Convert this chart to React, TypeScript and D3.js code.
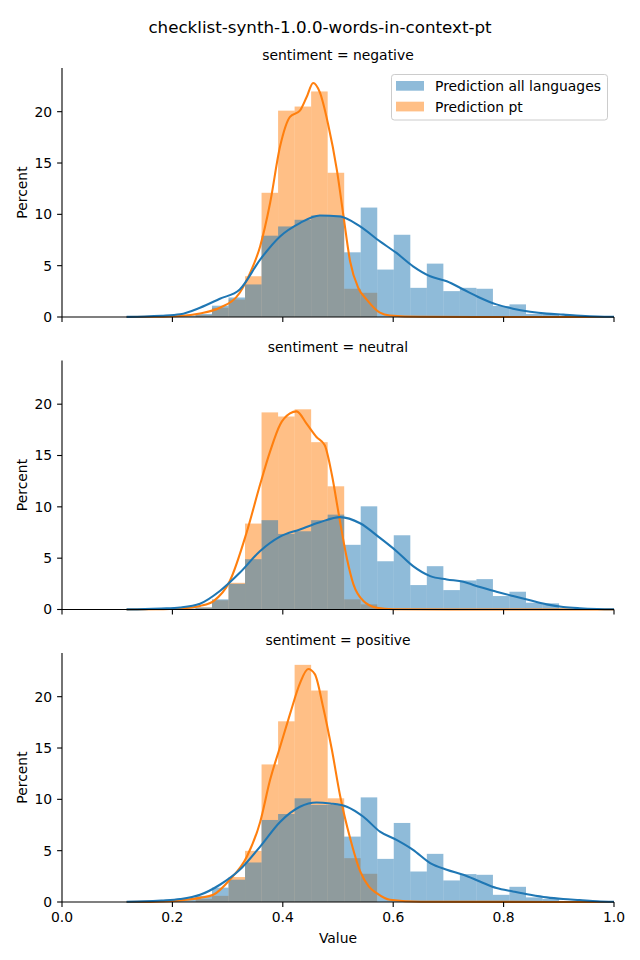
import React from "react";
import * as d3 from "d3";

const title = "checklist-synth-1.0.0-words-in-context-pt";
const facets = ["negative", "neutral", "positive"];
const seriesNames = ["Prediction all languages", "Prediction pt"];
const xTicks = [0, 0.2, 0.4, 0.6, 0.8, 1.0];
const yTicks = [0, 5, 10, 15, 20];

const binStart = 0.122;
const binWidth = 0.02994;
const binCount = 29;

// histogram percents per bin
const negAll = [0.05, 0.05, 0.1, 0.15, 0.3, 1.1, 1.9, 3.17, 7.92, 8.82, 9.47, 9.89, 9.89, 6.3, 10.66, 4.62, 8.01, 2.84, 5.2, 2.52, 2.84, 2.75, 1.07, 1.23, 0.3, 0.3, 0.1, 0.05, 0.05];
const negPt = [0, 0, 0, 0, 0.2, 0.9, 1.7, 3.97, 12.1, 20.1, 20.5, 21.97, 14.05, 2.75, 2.36, 0, 0, 0, 0, 0, 0, 0, 0, 0, 0, 0, 0, 0, 0];
const neuAll = [0.03, 0.03, 0.05, 0.1, 0.2, 0.99, 2.5, 4.9, 8.7, 7.36, 7.62, 8.7, 9.24, 6.3, 10.05, 4.7, 7.23, 2.38, 4.22, 1.89, 2.83, 2.96, 1.31, 1.73, 0.66, 0.6, 0.1, 0.05, 0.03];
const neuPt = [0, 0, 0, 0, 0.2, 0.9, 2.6, 8.37, 19.2, 18.8, 19.5, 16.3, 12.0, 0.99, 0.5, 0.05, 0, 0, 0, 0, 0, 0, 0, 0, 0, 0, 0, 0, 0];
const posAll = [0.1, 0.05, 0.1, 0.2, 0.6, 1.4, 2.17, 3.85, 7.99, 8.57, 10.1, 9.45, 9.45, 6.37, 10.19, 4.2, 7.7, 2.97, 4.69, 2.1, 2.72, 2.65, 0.7, 1.48, 0.45, 0.3, 0.1, 0.05, 0.03];
const posPt = [0, 0, 0, 0, 0.3, 0.6, 2.43, 4.98, 13.4, 17.6, 23.1, 20.6, 10.1, 4.27, 2.75, 0, 0, 0, 0, 0, 0, 0, 0, 0, 0, 0, 0, 0, 0];

// KDE curves
const kdeNegAllX = [0.117, 0.15, 0.18, 0.214, 0.25, 0.286, 0.322, 0.359, 0.395, 0.431, 0.467, 0.504, 0.54, 0.576, 0.606, 0.636, 0.667, 0.697, 0.727, 0.757, 0.787, 0.817, 0.848, 0.878, 0.908, 0.94, 0.97, 1.0];
const kdeNegAllY = [0.01, 0.05, 0.12, 0.26, 0.9, 1.78, 2.68, 5.6, 7.85, 9.15, 9.89, 9.79, 8.82, 7.36, 6.24, 4.94, 3.97, 3.49, 2.68, 1.88, 1.23, 0.81, 0.52, 0.33, 0.23, 0.12, 0.05, 0.02];
const kdeNegPtX = [0.117, 0.17, 0.214, 0.25, 0.286, 0.322, 0.34, 0.359, 0.377, 0.395, 0.413, 0.431, 0.443, 0.455, 0.467, 0.482, 0.498, 0.51, 0.522, 0.537, 0.552, 0.576, 0.594, 0.65, 0.75, 1.0];
const kdeNegPtY = [0.0, 0.02, 0.1, 0.35, 0.9, 2.36, 4.2, 6.9, 11.1, 16.6, 19.5, 20.1, 21.4, 22.8, 21.9, 18.8, 14.3, 9.8, 5.4, 2.8, 1.7, 0.42, 0.15, 0.02, 0, 0];
const kdeNeuAllX = [0.117, 0.15, 0.18, 0.214, 0.25, 0.286, 0.322, 0.359, 0.395, 0.431, 0.467, 0.504, 0.54, 0.576, 0.606, 0.636, 0.667, 0.697, 0.727, 0.757, 0.787, 0.817, 0.848, 0.878, 0.908, 0.938, 0.97, 1.0];
const kdeNeuAllY = [0.01, 0.04, 0.1, 0.2, 0.56, 1.8, 3.57, 5.7, 7.1, 7.8, 8.5, 9.0, 8.4, 6.97, 5.68, 4.22, 3.25, 2.93, 2.7, 2.18, 1.73, 1.31, 0.89, 0.5, 0.24, 0.12, 0.05, 0.02];
const kdeNeuPtX = [0.117, 0.17, 0.214, 0.25, 0.274, 0.304, 0.335, 0.359, 0.377, 0.395, 0.413, 0.425, 0.443, 0.461, 0.476, 0.489, 0.501, 0.516, 0.528, 0.546, 0.57, 0.6, 0.7, 1.0];
const kdeNeuPtY = [0.0, 0.02, 0.1, 0.35, 0.8, 2.77, 7.6, 12.2, 15.4, 18.0, 19.1, 19.3, 18.1, 16.8, 16.0, 13.1, 9.4, 5.0, 2.45, 0.83, 0.18, 0.03, 0, 0];
const kdePosAllX = [0.117, 0.15, 0.18, 0.214, 0.25, 0.286, 0.322, 0.359, 0.395, 0.431, 0.461, 0.486, 0.516, 0.546, 0.576, 0.606, 0.636, 0.667, 0.697, 0.727, 0.757, 0.787, 0.817, 0.848, 0.878, 0.908, 0.938, 0.97, 1.0];
const kdePosAllY = [0.03, 0.07, 0.15, 0.29, 0.7, 1.68, 3.14, 5.4, 7.8, 9.28, 9.7, 9.6, 9.28, 8.3, 6.86, 6.05, 5.08, 3.79, 3.14, 2.65, 2.0, 1.36, 1.03, 0.71, 0.45, 0.29, 0.19, 0.08, 0.03];
const kdePosPtX = [0.117, 0.17, 0.214, 0.25, 0.274, 0.304, 0.335, 0.359, 0.377, 0.395, 0.413, 0.431, 0.446, 0.458, 0.473, 0.489, 0.504, 0.522, 0.54, 0.556, 0.57, 0.594, 0.65, 1.0];
const kdePosPtY = [0.0, 0.04, 0.16, 0.4, 0.7, 2.17, 4.43, 7.8, 11.9, 15.1, 18.3, 21.3, 22.7, 22.2, 19.0, 14.8, 10.3, 6.2, 3.0, 1.5, 0.87, 0.22, 0.02, 0];

const histAll = [negAll, neuAll, posAll];
const histPt = [negPt, neuPt, posPt];
const kdeAll = [[kdeNegAllX, kdeNegAllY], [kdeNeuAllX, kdeNeuAllY], [kdePosAllX, kdePosAllY]];
const kdePt = [[kdeNegPtX, kdeNegPtY], [kdeNeuPtX, kdeNeuPtY], [kdePosPtX, kdePosPtY]];

const BLUE = "#1f77b4";
const ORANGE = "#ff7f0e";
const FONT = "DejaVu Sans, Liberation Sans, sans-serif";

const W = 640;
const H = 960;
const left = 62;
const right = 614;
const panelTops = [68, 360.5, 653];
const panelH = 249;

export default function App() {
  const x = d3.scaleLinear().domain([0, 1]).range([left, right]);
  const ymax = (d3.max([...histAll.flat(), ...histPt.flat()]) as number) * 1.05;
  const edges = d3.range(binCount + 1).map((k) => binStart + k * binWidth);

  return (
    <svg width={W} height={H} style={{ position: "absolute", left: 0, top: 0, background: "white" }} fontFamily={FONT}>
      <rect width={W} height={H} fill="white" />
      <text x={W / 2} y={33} textAnchor="middle" fontSize={16.7} fill="#000">{title}</text>
      {facets.map((f, i) => {
        const top = panelTops[i];
        const bottom = top + panelH;
        const y = d3.scaleLinear().domain([0, ymax]).range([bottom, top]);
        const line = d3
          .line<number>()
          .x((_, j, arr) => 0)
          .curve(d3.curveMonotoneX);
        const mk = (xs: number[], ys: number[]) =>
          d3
            .line<number>()
            .x((d) => x(d))
            .y((_, j) => y(ys[j]))
            .curve(d3.curveMonotoneX)(xs) as string;
        const bars = (vals: number[], color: string) =>
          vals.map((v, k) =>
            v > 0 ? (
              <rect
                key={k}
                x={x(edges[k])}
                y={y(v)}
                width={x(edges[k + 1]) - x(edges[k])}
                height={y(0) - y(v)}
                fill={color}
                fillOpacity={0.5}
              />
            ) : null
          );
        return (
          <g key={f}>
            <text x={(left + right) / 2} y={top - 8.5} textAnchor="middle" fontSize={13.9} fill="#000">
              {`sentiment = ${f}`}
            </text>
            <g>{bars(histPt[i], ORANGE)}</g>
            <g>{bars(histAll[i], BLUE)}</g>
            <path d={mk(kdePt[i][0], kdePt[i][1])} fill="none" stroke={ORANGE} strokeWidth={2.08} strokeLinejoin="round" />
            <path d={mk(kdeAll[i][0], kdeAll[i][1])} fill="none" stroke={BLUE} strokeWidth={2.08} strokeLinejoin="round" />
            {/* spines */}
            <line x1={left} x2={left} y1={top} y2={bottom} stroke="#000" strokeWidth={1.1} />
            <line x1={left} x2={right} y1={bottom} y2={bottom} stroke="#000" strokeWidth={1.1} />
            {yTicks.map((t) => (
              <g key={t}>
                <line x1={left - 4.9} x2={left} y1={y(t)} y2={y(t)} stroke="#000" strokeWidth={1.1} />
                <text x={left - 9.8} y={y(t)} dy="0.35em" textAnchor="end" fontSize={13.9} fill="#000">
                  {t}
                </text>
              </g>
            ))}
            {xTicks.map((t) => (
              <g key={t}>
                <line x1={x(t)} x2={x(t)} y1={bottom} y2={bottom + 4.9} stroke="#000" strokeWidth={1.1} />
                {i === facets.length - 1 ? (
                  <text x={x(t)} y={bottom + 20} textAnchor="middle" fontSize={13.9} fill="#000">
                    {t.toFixed(1)}
                  </text>
                ) : null}
              </g>
            ))}
            <text
              transform={`translate(27,${(top + bottom) / 2}) rotate(-90)`}
              textAnchor="middle"
              fontSize={13.9}
              fill="#000"
            >
              Percent
            </text>
            {i === facets.length - 1 ? (
              <text x={(left + right) / 2} y={bottom + 41} textAnchor="middle" fontSize={13.9} fill="#000">
                Value
              </text>
            ) : null}
          </g>
        );
      })}
      {/* legend */}
      <g>
        <rect x={391.5} y={74.5} width={216} height={45.5} rx={2.8} fill="white" fillOpacity={0.8} stroke="#cccccc" strokeWidth={1} />
        {seriesNames.map((s, j) => (
          <g key={s}>
            <rect x={396} y={81 + j * 20.7} width={28} height={9.7} fill={j === 0 ? BLUE : ORANGE} fillOpacity={0.5} />
            <text x={435} y={91 + j * 20.7} fontSize={13.9} fill="#000">
              {s}
            </text>
          </g>
        ))}
      </g>
    </svg>
  );
}
